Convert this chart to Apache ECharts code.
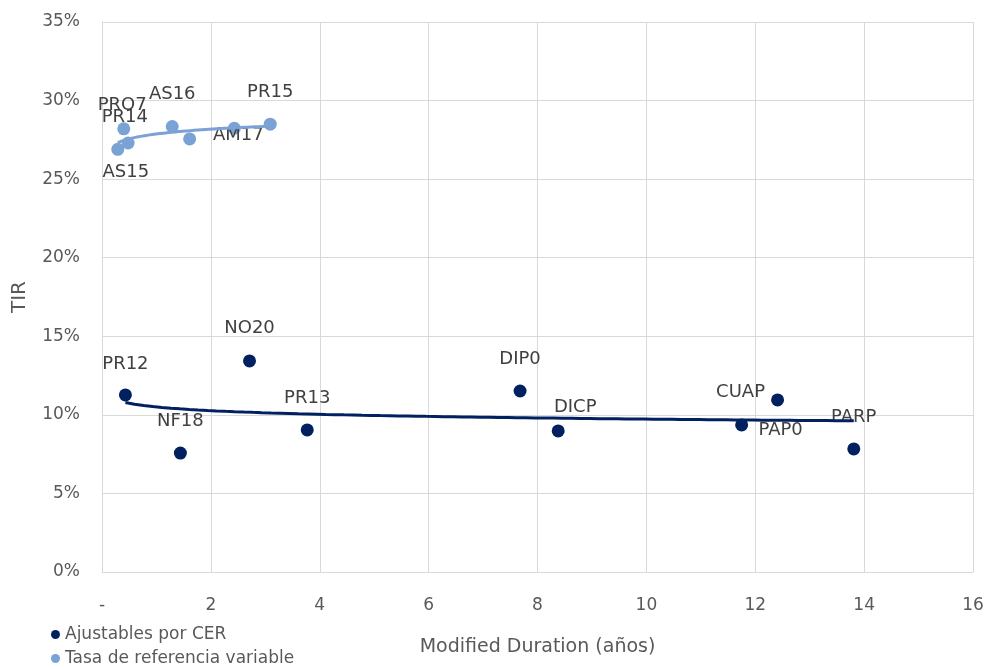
<!DOCTYPE html>
<html><head><meta charset="utf-8">
<script src="https://cdn.jsdelivr.net/npm/echarts@6/dist/echarts.min.js"></script>
<style>html,body{margin:0;padding:0;background:#fff}#c{width:987px;height:669px}</style>
</head><body><div id="c"></div>
<script>
// ---- data ----
const cerNames = ['PR12','NF18','NO20','PR13','DIP0','DICP','PAP0','CUAP','PARP'];
const cerDuration = [0.43,1.44,2.71,3.77,7.68,8.38,11.75,12.41,13.81];
const cerTIR = [11.27,7.57,13.43,9.04,11.52,8.98,9.36,10.95,7.83];
const varNames = ['AS15','PR14','PRO7','AS16','','AM17','PR15'];
const varDuration = [0.29,0.40,0.48,1.29,1.61,2.43,3.09];
const varTIR = [26.9,28.2,27.3,28.35,27.56,28.24,28.5];
const yTicks = [0,5,10,15,20,25,30,35];
const xTicks = [0,2,4,6,8,10,12,14,16];
const seriesNames = ['Ajustables por CER','Tasa de referencia variable'];

// ---- label placement (style, not data) ----
const labelOffsets = {
  PR12:[0,-31], NF18:[0,-32], NO20:[0,-33], PR13:[0,-32], DIP0:[0,-32],
  DICP:[17,-24], PAP0:[39,5], CUAP:[-37,-8], PARP:[0,-32],
  AS15:[8,23], PR14:[1,-12], PRO7:[-6,-38], AS16:[0,-32], AM17:[4,7], PR15:[0,-32]
};

const darkC = '#002060', lightC = '#7BA2D5', txt = '#595959', lblC = '#404040';

function pts(names, xs, ys){
  return xs.map((x,i)=>({
    value:[x, ys[i]], name:names[i],
    label:{show: !!names[i], formatter: names[i], position:'inside', color:lblC,
      offset: labelOffsets[names[i]] || [0,0]}
  }));
}
// logarithmic trendline (least squares on ln x), computed from the data
function logTrend(xs, ys){
  const n = xs.length, lx = xs.map(Math.log);
  const mx = lx.reduce((a,b)=>a+b,0)/n, my = ys.reduce((a,b)=>a+b,0)/n;
  let sxy=0, sxx=0;
  for(let i=0;i<n;i++){sxy+=(lx[i]-mx)*(ys[i]-my); sxx+=(lx[i]-mx)**2;}
  const b = sxy/sxx, a = my - b*mx;
  const x0 = Math.min(...xs), x1 = Math.max(...xs), out=[];
  for(let k=0;k<=80;k++){const x = x0+(x1-x0)*k/80; out.push([x, a+b*Math.log(x)]);}
  return out;
}

const chart = echarts.init(document.getElementById('c'));
const font = 'DejaVu Sans';
const legendBase = {
  orient:'vertical', left:51, itemGap:0, padding:0,
  icon:'circle', itemWidth:9, itemHeight:9,
  textStyle:{fontFamily:font, fontSize:17, color:txt}
};
chart.setOption({
  animation:false,
  textStyle:{fontFamily:font},
  grid:{left:102, right:14, top:22, bottom:97, containLabel:false},
  legend:[
    Object.assign({}, legendBase, {top:626, data:[seriesNames[0]]}),
    Object.assign({}, legendBase, {top:650, data:[seriesNames[1]]})
  ],
  xAxis:{
    type:'value', min:xTicks[0], max:xTicks[xTicks.length-1], interval:2,
    name:'Modified Duration (años)', nameLocation:'middle', nameGap:66,
    nameTextStyle:{fontFamily:font, fontSize:19, color:txt},
    axisLine:{show:true, lineStyle:{color:'#D9D9D9'}}, axisTick:{show:false},
    axisLabel:{fontFamily:font, fontSize:17, color:txt, margin:25,
      formatter:v=> v===0 ? '-' : String(v)},
    splitLine:{show:true, lineStyle:{color:'#D9D9D9', width:1}}
  },
  yAxis:{
    type:'value', min:yTicks[0], max:yTicks[yTicks.length-1], interval:5,
    name:'TIR', nameLocation:'middle', nameGap:72,
    nameTextStyle:{fontFamily:font, fontSize:20, color:txt},
    axisLine:{show:true, lineStyle:{color:'#D9D9D9'}}, axisTick:{show:false},
    axisLabel:{fontFamily:font, fontSize:17, color:txt, margin:22, formatter:v=>v+'%'},
    splitLine:{show:true, lineStyle:{color:'#D9D9D9', width:1}}
  },
  series:[
    {name:seriesNames[0], type:'scatter', symbolSize:13, itemStyle:{color:darkC, opacity:1},
      z:3, label:{fontFamily:font, fontSize:18, color:lblC},
      data:pts(cerNames, cerDuration, cerTIR)},
    {name:seriesNames[1], type:'scatter', symbolSize:13, itemStyle:{color:lightC, opacity:1},
      z:3, label:{fontFamily:font, fontSize:18, color:lblC},
      data:pts(varNames, varDuration, varTIR)},
    {name:'trend1', type:'line', showSymbol:false, symbol:'none', smooth:false,
      lineStyle:{color:darkC, width:3}, z:4, silent:true,
      data:logTrend(cerDuration, cerTIR)},
    {name:'trend2', type:'line', showSymbol:false, symbol:'none', smooth:false,
      lineStyle:{color:lightC, width:3}, z:4, silent:true,
      data:logTrend(varDuration, varTIR)}
  ]
});
</script></body></html>
